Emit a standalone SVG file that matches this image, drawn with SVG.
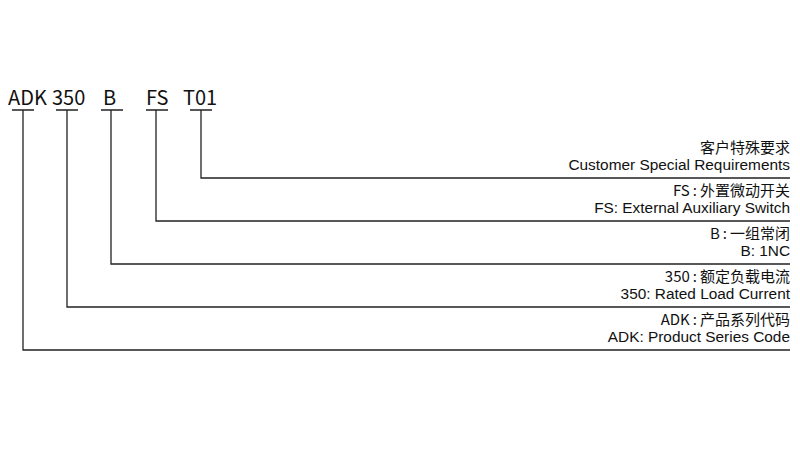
<svg xmlns="http://www.w3.org/2000/svg" width="800" height="450" viewBox="0 0 800 450">
<style>
.code{font-family:"Noto Sans CJK SC","Noto Sans",sans-serif;font-size:20px;fill:#111}
.cn{font-family:"Noto Sans CJK SC",sans-serif;font-size:15px;fill:#111;text-anchor:end}
.en{font-family:"Liberation Sans",Arial,sans-serif;font-size:15.4px;fill:#111;text-anchor:end}
.ln{stroke:#222;stroke-width:1.3;fill:none}
</style>
<rect width="800" height="450" fill="#fff"/>
<g id="code">
<text class="code" x="8" y="104.5">ADK</text>
<text class="code" x="52" y="104.5">350</text>
<text class="code" x="103" y="104.5">B</text>
<text class="code" x="146" y="104.5">FS</text>
<text class="code" x="183" y="104.5">T01</text>
</g>
<g id="connectors" class="ln">
<path d="M12 110H34M23 110V350H790"/>
<path d="M56 110H78M67 110V307H790"/>
<path d="M101 110H123M111 110V264H790"/>
<path d="M146 110H168M156 110V221H790"/>
<path d="M190 110H212M201 110V178H790"/>
</g>
<g id="t01">
<text class="cn" x="790" y="153">客户特殊要求</text>
<text class="en" x="790" y="170">Customer Special Requirements</text>
</g>
<g id="fs">
<text class="cn" x="790" y="196">FS<tspan dx="3">:</tspan><tspan dx="3">外置微动开关</tspan></text>
<text class="en" x="790" y="213">FS: External Auxiliary Switch</text>
</g>
<g id="b">
<text class="cn" x="790" y="239">B<tspan dx="3">:</tspan><tspan dx="3">一组常闭</tspan></text>
<text class="en" x="790" y="256">B: 1NC</text>
</g>
<g id="n350">
<text class="cn" x="790" y="282">350<tspan dx="3">:</tspan><tspan dx="3">额定负载电流</tspan></text>
<text class="en" x="790" y="299">350: Rated Load Current</text>
</g>
<g id="adk">
<text class="cn" x="790" y="325">ADK<tspan dx="3">:</tspan><tspan dx="3">产品系列代码</tspan></text>
<text class="en" x="790" y="342">ADK: Product Series Code</text>
</g>
</svg>
